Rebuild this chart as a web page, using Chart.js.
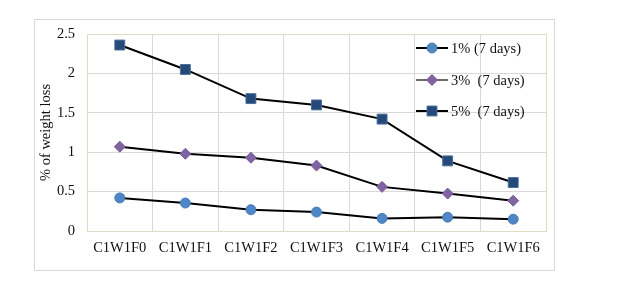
<!DOCTYPE html>
<html>
<head>
<meta charset="utf-8">
<script src="https://cdn.jsdelivr.net/npm/chart.js@4/dist/chart.umd.min.js"></script>
<style>
  html, body { margin: 0; padding: 0; background: #fff; }
  #wrap { width: 618px; height: 287px; }
</style>
</head>
<body>
<div id="wrap"><canvas id="lossChart" width="618" height="287"></canvas></div>
<script>
// values
var categories = ['C1W1F0', 'C1W1F1', 'C1W1F2', 'C1W1F3', 'C1W1F4', 'C1W1F5', 'C1W1F6'];
var loss1 = [0.42, 0.355, 0.27, 0.24, 0.16, 0.175, 0.15];
var loss3 = [1.07, 0.98, 0.93, 0.83, 0.56, 0.475, 0.385];
var loss5 = [2.36, 2.05, 1.68, 1.60, 1.42, 0.89, 0.615];
var seriesNames = ['1% (7 days)', '3%  (7 days)', '5%  (7 days)'];
var yTicks = [0, 0.5, 1, 1.5, 2, 2.5];

var serif = "'Liberation Serif', 'DejaVu Serif', serif";

// outer frame of the figure
var frame = {
  id: 'frame',
  beforeDraw: function (chart) {
    var ctx = chart.ctx;
    ctx.save();
    ctx.fillStyle = '#fff';
    ctx.fillRect(0, 0, chart.width, chart.height);
    ctx.strokeStyle = '#d9d9d9';
    ctx.lineWidth = 1;
    ctx.strokeRect(34.5, 19.5, 520, 251);
    ctx.restore();
  },
  afterDatasetsDraw: function (chart) {
    // plot area border (tan)
    var a = chart.chartArea, ctx = chart.ctx;
    ctx.save();
    ctx.strokeStyle = '#e3dcc4';
    ctx.lineWidth = 1;
    ctx.strokeRect(Math.round(a.left) + 0.5, Math.round(a.top) + 0.5,
      Math.round(a.right - a.left), Math.round(a.bottom - a.top));
    ctx.restore();
  }
};

// legend drawn inside the plot, top right
var innerLegend = {
  id: 'innerLegend',
  afterDraw: function (chart) {
    var ctx = chart.ctx;
    var ys = [48, 80, 111];
    ctx.save();
    chart.data.datasets.forEach(function (ds, i) {
      var y = ys[i];
      ctx.strokeStyle = i === 1 ? '#3a3a3a' : '#000';
      ctx.lineWidth = i === 1 ? 1.5 : 2;
      ctx.beginPath();
      ctx.moveTo(416, y);
      ctx.lineTo(448, y);
      ctx.stroke();
      ctx.fillStyle = ds.pointBackgroundColor;
      ctx.strokeStyle = ds.pointBorderColor;
      ctx.lineWidth = 1;
      Chart.helpers.drawPoint(ctx, {
        pointStyle: ds.pointStyle,
        radius: ds.pointRadius,
        borderWidth: 1
      }, 432, y);
      ctx.fillStyle = '#111';
      ctx.font = '14.5px ' + serif;
      ctx.textBaseline = 'middle';
      ctx.textAlign = 'left';
      ctx.fillText(ds.label, 451, y + 1);
    });
    ctx.restore();
  }
};

var ctx = document.getElementById('lossChart').getContext('2d');
var chart = new Chart(ctx, {
  type: 'line',
  data: {
    labels: categories,
    datasets: [{
      label: seriesNames[0],
      data: loss1,
      borderColor: '#000',
      borderWidth: 2,
      pointStyle: 'circle',
      pointRadius: 5,
      pointBackgroundColor: '#4f86c6',
      pointBorderColor: '#4a7ebb',
      pointBorderWidth: 1
    }, {
      label: seriesNames[1],
      data: loss3,
      borderColor: '#000',
      borderWidth: 2,
      pointStyle: 'rectRot',
      pointRadius: 5.5,
      pointBackgroundColor: '#8064a2',
      pointBorderColor: '#7a5e9c',
      pointBorderWidth: 1
    }, {
      label: seriesNames[2],
      data: loss5,
      borderColor: '#000',
      borderWidth: 2,
      pointStyle: 'rect',
      pointRadius: 7,
      pointBackgroundColor: '#254a78',
      pointBorderColor: '#4a6e9c',
      pointBorderWidth: 1
    }]
  },
  options: {
    responsive: false,
    animation: false,
    layout: { padding: { left: 34, top: 34, right: 72, bottom: 0 } },
    plugins: {
      legend: { display: false },
      tooltip: { enabled: false }
    },
    scales: {
      x: {
        offset: true,
        grid: { offset: true, color: '#d9d9d9', drawTicks: false },
        border: { display: false },
        ticks: { color: '#111', font: { family: serif, size: 14.5 }, padding: 8, maxRotation: 0 },
        afterFit: function (scale) { scale.height = 56; }
      },
      y: {
        min: 0,
        max: 2.5,
        afterBuildTicks: function (scale) {
          scale.ticks = yTicks.map(function (v) { return { value: v }; });
        },
        grid: { color: '#d9d9d9', drawTicks: false },
        border: { display: false },
        ticks: {
          color: '#111',
          font: { family: serif, size: 14.5 },
          padding: 12,
          callback: function (v) { return String(v); }
        },
        title: {
          display: true,
          text: '% of weight loss',
          color: '#111',
          font: { family: serif, size: 14.5 },
          padding: { top: 3, bottom: 0 }
        },
        afterFit: function (scale) { scale.width = 53; }
      }
    }
  },
  plugins: [frame, innerLegend]
});
</script>
</body>
</html>
